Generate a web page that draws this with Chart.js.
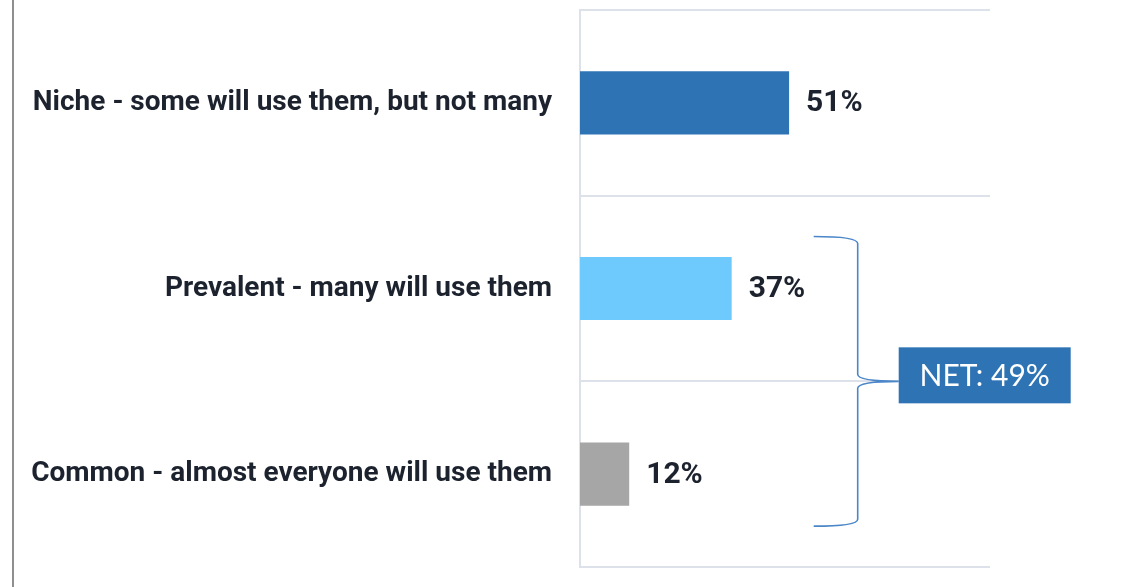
<!DOCTYPE html>
<html>
<head>
<meta charset="utf-8">
<script src="https://cdn.jsdelivr.net/npm/chart.js@4.4.1/dist/chart.umd.min.js"></script>
<style>
  html, body { margin: 0; padding: 0; background: #fff; }
  #wrap { width: 1143px; height: 587px; position: relative; }
</style>
</head>
<body>
<div id="wrap"><canvas id="chart"></canvas></div>
<script>
const categories = [
  "Niche - some will use them, but not many",
  "Prevalent - many will use them",
  "Common - almost everyone will use them",
];
const shares = [51, 37, 12];
const barColors = ["#2e74b5", "#6ecafd", "#a6a6a6"];
// rows summed into the NET box
const netRows = [1, 2];

const labelFont = { family: "Roboto", size: 28, weight: "bold" };

// percent text to the right of each bar
const valueLabels = {
  id: "valueLabels",
  afterDatasetsDraw(chart) {
    const ctx = chart.ctx;
    const meta = chart.getDatasetMeta(0);
    ctx.save();
    ctx.font = "bold 30px Roboto";
    ctx.fillStyle = "#1d232e";
    ctx.textBaseline = "middle";
    meta.data.forEach((bar, i) => {
      ctx.fillText(shares[i] + "%", bar.x + 17, bar.y + 1);
    });
    ctx.restore();
  },
};

// page border on the left, brace over the NET rows and the NET box
const netBracket = {
  id: "netBracket",
  beforeDraw(chart) {
    const ctx = chart.ctx;
    ctx.save();
    ctx.fillStyle = "#8f8f8f";
    ctx.fillRect(12, 0, 2, chart.height);
    ctx.restore();
  },
  afterDraw(chart) {
    const ctx = chart.ctx;
    const x = chart.scales.x;
    const y = chart.scales.y;
    const band = y.getPixelForValue(1) - y.getPixelForValue(0);
    const top = y.getPixelForValue(netRows[0]) - band * 0.28;
    const bot = y.getPixelForValue(netRows[netRows.length - 1]) + band * 0.28;
    const mid = (top + bot) / 2;
    const x0 = x.getPixelForValue(57);
    const x1 = x0 + 44;
    const tip = x1 + 41;
    const r = 7;

    ctx.save();
    ctx.strokeStyle = "#4a86c8";
    ctx.lineWidth = 1.6;
    ctx.beginPath();
    ctx.moveTo(x0, top);
    ctx.quadraticCurveTo(x1, top, x1, top + r);
    ctx.lineTo(x1, mid - r);
    ctx.quadraticCurveTo(x1, mid, tip, mid);
    ctx.quadraticCurveTo(x1, mid, x1, mid + r);
    ctx.lineTo(x1, bot - r);
    ctx.quadraticCurveTo(x1, bot, x0, bot);
    ctx.stroke();

    // box sits a little above the brace tip
    const net = netRows.reduce((s, i) => s + shares[i], 0);
    const bw = 172, bh = 56;
    const boxMid = mid - 6;
    ctx.fillStyle = "#2e74b5";
    ctx.fillRect(tip, boxMid - bh / 2, bw, bh);
    ctx.fillStyle = "#ffffff";
    ctx.font = "30px Lato";
    ctx.textAlign = "center";
    ctx.textBaseline = "middle";
    ctx.fillText("NET: " + net + "%", tip + bw / 2, boxMid + 1);
    ctx.restore();
  },
};

const data = {
  labels: categories,
  datasets: [
    {
      data: shares,
      backgroundColor: barColors,
      barPercentage: 0.34,
      categoryPercentage: 1,
    },
  ],
};

const config = {
  type: "bar",
  data: data,
  options: {
    indexAxis: "y",
    responsive: false,
    animation: false,
    layout: { padding: { top: 10, bottom: 20, right: 153, left: 0 } },
    plugins: {
      legend: { display: false },
      tooltip: { enabled: false },
    },
    scales: {
      x: {
        min: 0,
        max: 100,
        display: false,
      },
      y: {
        afterFit(scale) {
          scale.width = 580;
          scale.paddingTop = 0;
          scale.paddingBottom = 0;
        },
        grid: { color: "#dde1ea", lineWidth: 2, drawTicks: false },
        border: { color: "#dde1ea", width: 2 },
        ticks: { font: labelFont, color: "#1d232e", padding: 28 },
      },
    },
  },
  plugins: [valueLabels, netBracket],
};

const canvas = document.getElementById("chart");
canvas.width = 1143;
canvas.height = 587;
const chart = new Chart(canvas.getContext("2d"), config);
</script>
</body>
</html>
